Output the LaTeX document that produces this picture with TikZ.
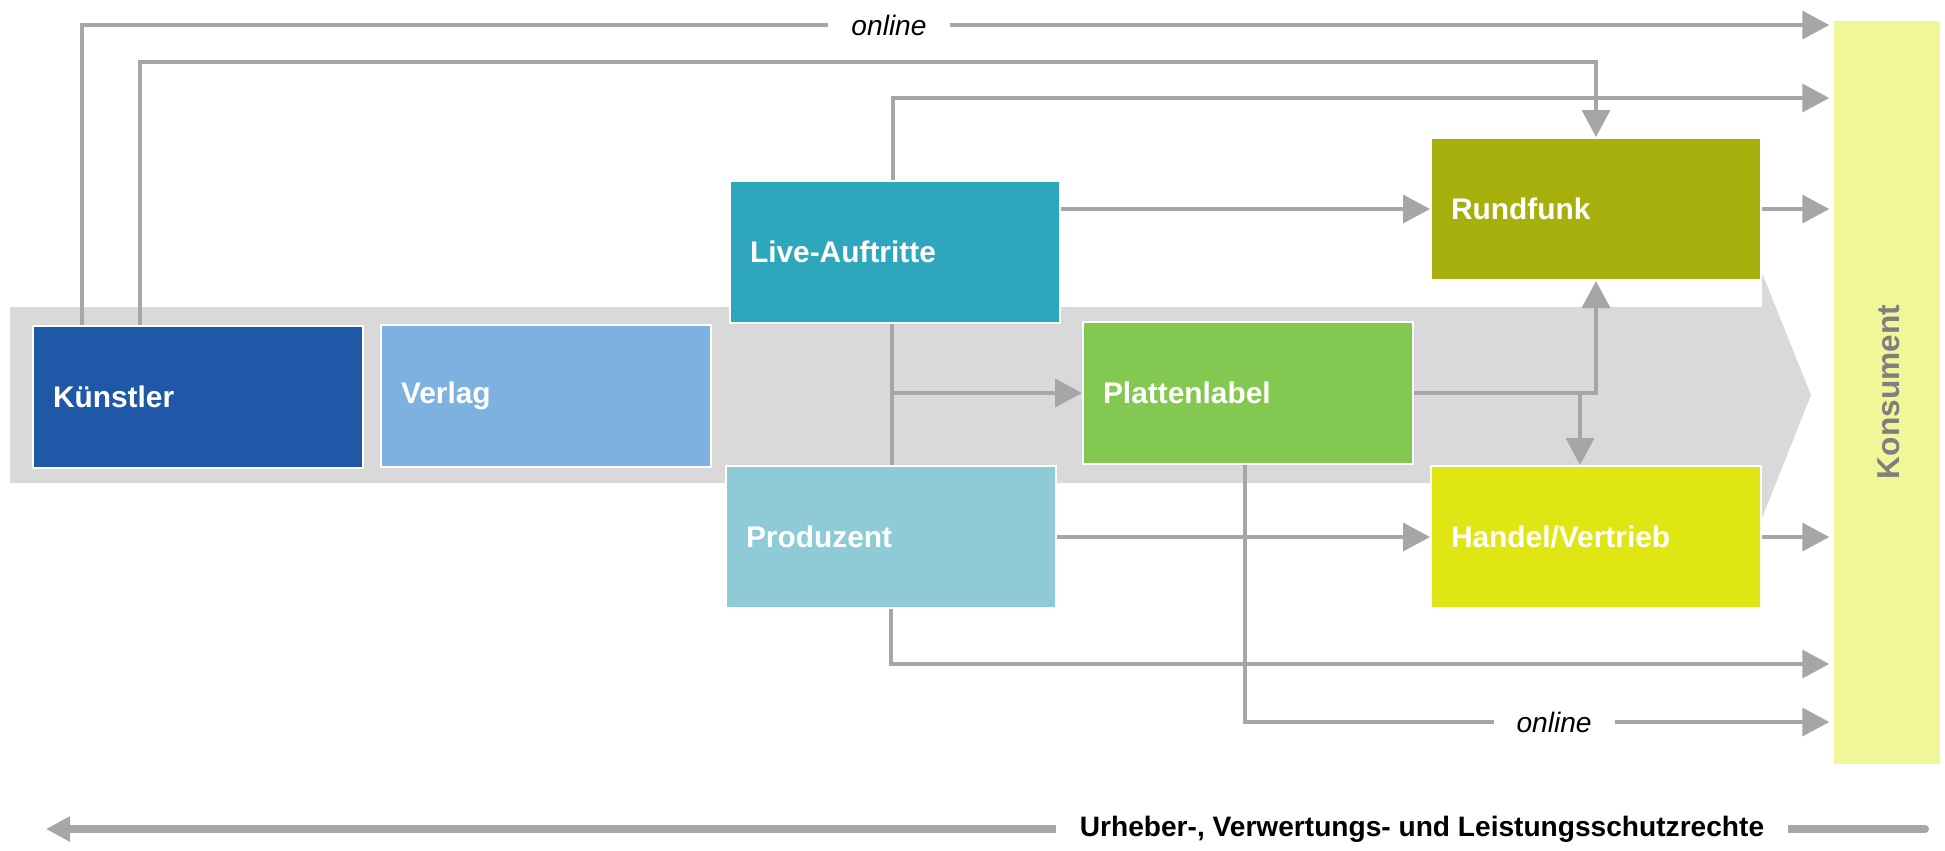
\documentclass[tikz,border=0pt]{standalone}
\usepackage{fontspec}
\setmainfont{Liberation Sans}
\usetikzlibrary{arrows.meta}

\definecolor{kuenstlerblue}{HTML}{1F58A6}
\definecolor{verlagblue}{HTML}{7DB1DF}
\definecolor{livecyan}{HTML}{2EA7BC}
\definecolor{produzentcyan}{HTML}{8FCBD6}
\definecolor{plattengreen}{HTML}{83C850}
\definecolor{rundfunkolive}{HTML}{A6AF0C}
\definecolor{handelyellow}{HTML}{DFE614}
\definecolor{konsumyellow}{HTML}{F1F799}
\definecolor{konsumgray}{HTML}{7F7F7F}
\definecolor{bandgray}{HTML}{D9D9D9}
\definecolor{linegray}{HTML}{A6A6A6}

\begin{document}
\begin{tikzpicture}[x=0.1mm, y=-0.1mm, >={Triangle[length=2.7mm, width=2.8mm]},
  box/.style={draw=white, line width=0.2mm, minimum width=33mm, minimum height=14.2mm,
    inner xsep=2mm, text width=29mm, align=left, text=white,
    font=\fontsize{8.5}{10}\selectfont\bfseries},
  conn/.style={draw=linegray, line width=0.35mm},
  tokons/.style={shorten >=0.4mm},
  lbl/.style={fill=white, inner xsep=2.3mm, font=\fontsize{8}{10}\selectfont\itshape}]
  \useasboundingbox (0,0) rectangle (1945,850);

  % value chain band
  \fill[bandgray] (10,307) -- (1762,307) -- (1762,273) -- (1811,395)
    -- (1762,518) -- (1762,483) -- (10,483) -- cycle;

  \node[box, fill=kuenstlerblue] (kuenstler) at (198,397) {Künstler};
  \node[box, fill=verlagblue] (verlag) at (546,396) {Verlag};
  \node[box, fill=livecyan] (live) at (895,252) {Live-Auftritte};
  \node[box, fill=produzentcyan] (produzent) at (891,537) {Produzent};
  \node[box, fill=plattengreen] (platten) at (1248,393) {Plattenlabel};
  \node[box, fill=rundfunkolive] (rundfunk) at (1596,209) {Rundfunk};
  \node[box, fill=handelyellow] (handel) at (1596,537) {Handel/Vertrieb};
  \node[fill=konsumyellow, minimum width=10.6mm, minimum height=74.3mm, inner sep=0]
    (konsument) at (1887,392) {};
  \node[rotate=90, text=konsumgray, font=\fontsize{9}{10}\selectfont\bfseries]
    (konslabel) at (1889,392) {Konsument};

  % bends
  \coordinate (bA) at (82,25);
  \coordinate (bB) at (140,62);
  \coordinate (bC) at (893,98);
  \coordinate (lp) at (892,393);
  \coordinate (bD) at (1580,393);
  \coordinate (bE) at (891,664);
  \coordinate (bF) at (1245,722);

  \draw[conn, ->, tokons] (kuenstler.north -| bA) -- (bA) -- (konsument.west |- bA);
  \draw[conn, ->] (kuenstler.north -| bB) -- (bB) -| (rundfunk.north);
  \draw[conn, ->, tokons] (live.north -| bC) -- (bC) -- (konsument.west |- bC);
  \draw[conn, ->] (live.east |- rundfunk) -- (rundfunk.west);
  \draw[conn, ->, tokons] (rundfunk.east) -- (rundfunk.east -| konsument.west);
  \draw[conn] (live.south -| lp) -- (produzent.north -| lp);
  \draw[conn, ->] (lp) -- (platten.west |- lp);
  \draw[conn, ->] (platten.east) -| (rundfunk.south);
  \draw[conn, ->] (bD) -- (handel.north -| bD);
  \draw[conn, ->] (produzent.east) -- (handel.west);
  \draw[conn, ->, tokons] (handel.east) -- (handel.east -| konsument.west);
  \draw[conn, ->, tokons] (produzent.south -| bE) -- (bE) -- (konsument.west |- bE);
  \draw[conn, ->, tokons] (platten.south -| bF) -- (bF) -- (konsument.west |- bF);

  \node[lbl] (online1) at (889,25) {online};
  \node[lbl] (online2) at (1554,722) {online};

  % rights arrow
  \coordinate (rr) at (1925,829);
  \coordinate (rl) at (46,829);
  \draw[draw=linegray, line width=0.8mm, line cap=round,
    -{Triangle[length=2.4mm, width=2.4mm]}] (rr) -- (rl);
  \node[fill=white, inner xsep=2.4mm, font=\fontsize{8}{10}\selectfont\bfseries]
    (rights) at (1422,829) {Urheber-, Verwertungs- und Leistungsschutzrechte};
\end{tikzpicture}
\end{document}
